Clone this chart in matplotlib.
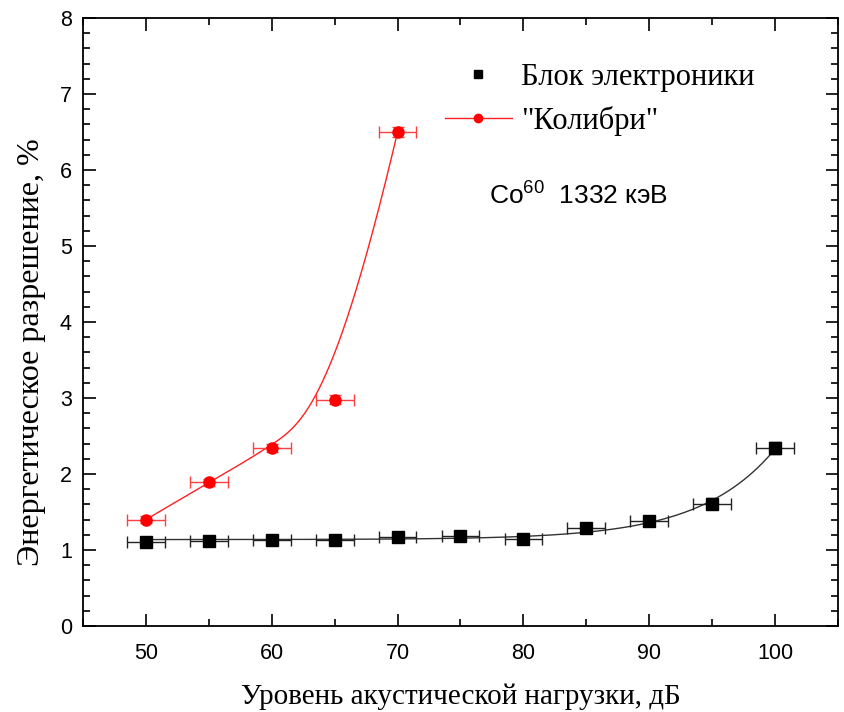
import numpy as np
import matplotlib
matplotlib.use("Agg")
import matplotlib.pyplot as plt
from matplotlib.lines import Line2D
from matplotlib.ticker import MultipleLocator

# Electronics unit data
x_block = [50, 55, 60, 65, 70, 75, 80, 85, 90, 95, 100]
y_block = [1.11, 1.12, 1.13, 1.13, 1.17, 1.18, 1.15, 1.29, 1.38, 1.61, 2.34]
yerr_block = [0.05, 0.05, 0.06, 0.06, 0.05, 0.06, 0.06, 0.06, 0.07, 0.07, 0.08]
xerr_block = 1.5

# "Kolibri" data
x_kol = [50, 55, 60, 65, 70]
y_kol = [1.40, 1.89, 2.34, 2.98, 6.50]
yerr_kol = [0.05, 0.05, 0.05, 0.06, 0.06]
xerr_kol = 1.5

x_ticks = [50, 60, 70, 80, 90, 100]
y_ticks = [0, 1, 2, 3, 4, 5, 6, 7, 8]

SERIF = "Liberation Serif"
SANS = "Liberation Sans"
plt.rcParams["mathtext.fontset"] = "custom"
plt.rcParams["mathtext.rm"] = SANS
plt.rcParams["mathtext.it"] = SANS


def bspline_curve(xp, yp, num=500, degree=3):
    """Clamped B-spline using the data points as control points."""
    P = np.column_stack([np.asarray(xp, float), np.asarray(yp, float)])
    n = len(P)
    p = degree
    inner = np.arange(1, n - p)
    knots = np.concatenate([np.zeros(p + 1), inner, np.full(p + 1, n - p)])
    t = np.linspace(0, n - p, num)
    t[-1] -= 1e-9
    N = np.zeros((num, len(knots) - 1))
    for i in range(len(knots) - 1):
        N[:, i] = (t >= knots[i]) & (t < knots[i + 1])
    for k in range(1, p + 1):
        Nn = np.zeros((num, len(knots) - 1 - k))
        for i in range(len(knots) - 1 - k):
            d1 = knots[i + k] - knots[i]
            d2 = knots[i + k + 1] - knots[i + 1]
            a = (t - knots[i]) / d1 * N[:, i] if d1 > 0 else 0
            b = (knots[i + k + 1] - t) / d2 * N[:, i + 1] if d2 > 0 else 0
            Nn[:, i] = a + b
        N = Nn
    C = N @ P
    return C[:, 0], C[:, 1]


def exp_fit(x, y, xs):
    """Least-squares fit y = a + b*exp(k*(x-100))."""
    x = np.asarray(x, float)
    y = np.asarray(y, float)
    best = None
    for k in np.linspace(0.05, 0.5, 400):
        M = np.column_stack([np.ones_like(x), np.exp(k * (x - 100))])
        coef, *_ = np.linalg.lstsq(M, y, rcond=None)
        err = np.sum((M @ coef - y) ** 2)
        if best is None or err < best[0]:
            best = (err, k, coef)
    _, k, (a, b) = best
    return a + b * np.exp(k * (xs - 100))


fig = plt.figure(figsize=(8.44, 7.12), dpi=100)
ax = fig.add_axes([0.0983, 0.1208, 0.8946, 0.8539])

bx = np.linspace(min(x_block), max(x_block), 400)
ax.plot(bx, exp_fit(x_block, y_block, bx), color="#333333", lw=1.0, zorder=2)
ax.errorbar(x_block, y_block, xerr=xerr_block, yerr=yerr_block, fmt="s",
            color="black", ms=8.5, elinewidth=1.0, ecolor="#222222",
            capsize=4.5, capthick=1.0, zorder=3)

kx, ky = bspline_curve(x_kol, y_kol)
ax.plot(kx, ky, color="#ff2020", lw=1.0, zorder=2)
ax.errorbar(x_kol, y_kol, xerr=xerr_kol, yerr=yerr_kol, fmt="o",
            color="#ff0000", ms=8, elinewidth=1.0, ecolor="#ff4040",
            capsize=4.5, capthick=1.0, zorder=3)

ax.set_xlim(45, 105)
ax.set_ylim(0, 8)
ax.set_xticks(x_ticks)
ax.set_yticks(y_ticks)
ax.xaxis.set_minor_locator(MultipleLocator(5))
ax.yaxis.set_minor_locator(MultipleLocator(0.2))
ax.tick_params(which="both", direction="in", top=True, right=True, width=1.2)
ax.tick_params(which="major", length=9, labelsize=15.5)
ax.tick_params(axis="x", which="major", pad=12)
ax.tick_params(axis="y", which="major", pad=8)
ax.tick_params(which="minor", length=5)
for lab in ax.get_xticklabels() + ax.get_yticklabels():
    lab.set_fontfamily(SANS)
for s in ax.spines.values():
    s.set_linewidth(1.3)

ax.set_xlabel("Уровень акустической нагрузки, дБ", fontfamily=SERIF,
              fontsize=21, labelpad=14)
ax.set_ylabel("Энергетическое разрешение, %", fontfamily=SERIF, fontsize=23)
ax.yaxis.set_label_coords(-0.049, 0.45)

handles = [
    Line2D([], [], color="black", marker="s", ls="none", ms=6),
    Line2D([], [], color="#ff2020", marker="o", ms=6, lw=1.0,
           markerfacecolor="#ff0000", markeredgecolor="#ff0000"),
]
ax.legend(handles, ["Блок электроники", '"Колибри"'], loc="upper left",
          bbox_to_anchor=(0.463, 0.946), borderaxespad=0, frameon=False,
          handlelength=2.2, handletextpad=0.3, labelspacing=0.45,
          prop={"family": SERIF, "size": 22})

ax.text(77.3, 5.55, "Co$^{60}$  1332 кэВ", fontfamily=SANS, fontsize=19)

fig.savefig("out.png", dpi=100)
